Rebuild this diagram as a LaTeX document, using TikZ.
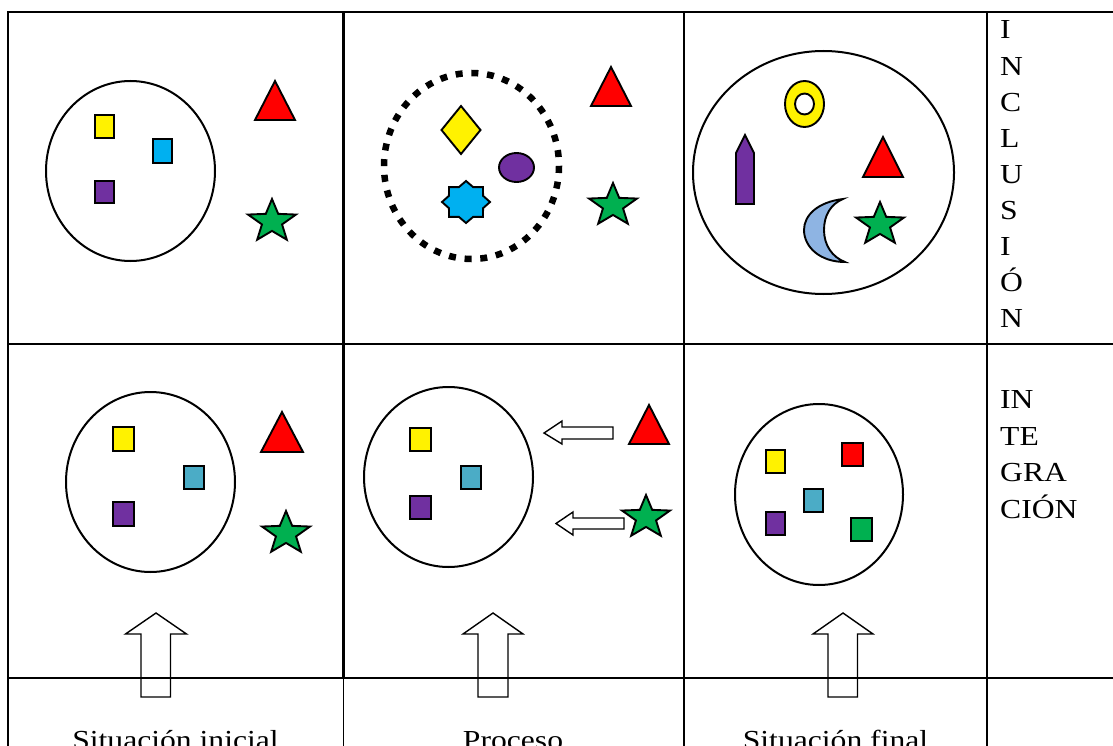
\documentclass[tikz,border=0pt]{standalone}
\usepackage{fontspec}
\setmainfont{Liberation Serif}
\newfontfamily\lblfont[FakeStretch=1.15]{Liberation Serif}
\definecolor{cyanb}{HTML}{00B0F0}
\definecolor{purp}{HTML}{7030A0}
\definecolor{grn}{HTML}{00B050}
\definecolor{tealb}{HTML}{4BACC6}
\definecolor{moonb}{HTML}{8EB4E3}
\newcommand\fivestar[4]{%
  \filldraw[shp, fill=grn, shift={(#1,#2)}, xscale=#4]
    (-90:#3) -- (-54:{0.42*#3}) -- (-18:#3) -- (18:{0.42*#3}) -- (54:#3) -- (90:{0.42*#3})
    -- (126:#3) -- (162:{0.42*#3}) -- (198:#3) -- (234:{0.42*#3}) -- cycle;}
\newcommand\sqbox[5]{\filldraw[shp, fill=#5] (#1,#2) rectangle (#3,#4);}
\newcommand\tri[4]{\filldraw[shp, fill=red] (#1,#2) -- (#4,#3) -- ({2*#1-#4},#3) -- cycle;}
\begin{document}
\begin{tikzpicture}[x=1pt,y=-1pt,
  gridline/.style={line width=2.3pt},
  thingrid/.style={line width=1.3pt},
  shp/.style={draw=black, line width=1.9pt, line join=miter},
  setline/.style={draw=black, line width=2pt},
  blockarrow/.style={draw=black, line width=1.4pt, line join=miter},
  lbl/.style={font=\lblfont\fontsize{27.5}{30}\selectfont, inner sep=0pt}]
\useasboundingbox (0,0) rectangle (1113,746);
\fill[white] (0,0) rectangle (1113,746);

% grid
\draw[gridline] (7,12) -- (1113,12);
\draw[gridline] (7,344) -- (1113,344);
\draw[gridline] (7,678) -- (1113,678);
\draw[gridline] (8,12) -- (8,678);
\draw[gridline] (343.5,12) -- (343.5,678);
\draw[gridline] (684,12) -- (684,678);
\draw[gridline] (987,12) -- (987,678);
\draw[thingrid] (8,678) -- (8,746);
\draw[thingrid] (343.5,678) -- (343.5,746);
\draw[thingrid] (684,678) -- (684,746);
\draw[thingrid] (987,678) -- (987,746);

% ---- top-left cell
\draw[setline] (130.5,171) ellipse [x radius=84.5, y radius=90];
\sqbox{95}{115}{114}{138}{yellow}
\sqbox{153}{139}{172}{163}{cyanb}
\sqbox{95}{181}{114}{203}{purp}
\tri{275}{81}{120}{295}
\fivestar{272}{221.5}{22.5}{1.12}

% ---- top-middle cell
\draw[line width=6.5pt, dash pattern=on 7pt off 8.75pt] (471.5,166) ellipse [x radius=87.5, y radius=93];
\filldraw[shp, fill=yellow] (461,106) -- (480.5,130) -- (461,154) -- (441.5,130) -- cycle;
\filldraw[shp, fill=purp] (516.5,167.5) ellipse [x radius=17.5, y radius=14.5];
\filldraw[shp, fill=cyanb, shift={(466,202)}, xscale=24, yscale=21]
  (-90:1) -- (-67.5:.77) -- (-45:1) -- (-22.5:.77) -- (0:1) -- (22.5:.77) -- (45:1) -- (67.5:.77)
  -- (90:1) -- (112.5:.77) -- (135:1) -- (157.5:.77) -- (180:1) -- (202.5:.77) -- (225:1) -- (247.5:.77) -- cycle;
\tri{611}{67}{106}{631}
\fivestar{613}{205.5}{22.5}{1.12}

% ---- top-right cell
\draw[setline] (823.5,172.5) ellipse [x radius=130.5, y radius=121.5];
\filldraw[shp, fill=yellow, even odd rule] (804.5,104) ellipse [x radius=19.5, y radius=23]
  (804.5,104) ellipse [x radius=9.5, y radius=10.5];
\filldraw[shp, fill=purp] (736,153) -- (745,135) -- (754,153) -- (754,204) -- (736,204) -- cycle;
\tri{883}{137}{177}{903}
\filldraw[shp, fill=moonb] (843,199) .. controls (818,202) and (804,215) .. (804,230)
  .. controls (804,247) and (820,262) .. (845,262)
  .. controls (832,257) and (824,245) .. (824,230)
  .. controls (824,215) and (831,204) .. (843,199) -- cycle;
\fivestar{880}{224.5}{22.5}{1.12}

% ---- middle-left cell
\draw[setline] (150.5,482) ellipse [x radius=84.5, y radius=90];
\sqbox{113}{427}{134}{451}{yellow}
\sqbox{184}{466}{204}{489}{tealb}
\sqbox{113}{502}{134}{526}{purp}
\tri{282}{412}{452}{303}
\fivestar{286}{533.5}{22.5}{1.12}

% ---- middle-middle cell
\draw[setline] (448.5,477) ellipse [x radius=84.5, y radius=90];
\sqbox{410}{428}{431}{451}{yellow}
\sqbox{461}{466}{481}{489}{tealb}
\sqbox{410}{496}{431}{519}{purp}
\tri{649}{405}{444}{669}
\fivestar{646}{517.5}{22.5}{1.12}
\draw[blockarrow] (544,433) -- (562,421) -- (562,427) -- (613,427) -- (613,439) -- (562,439) -- (562,444) -- cycle;
\draw[blockarrow] (556,523.5) -- (573,512) -- (573,518) -- (624,518) -- (624,529) -- (573,529) -- (573,535) -- cycle;

% ---- middle-right cell
\draw[setline] (819,494.5) ellipse [x radius=84, y radius=90.5];
\sqbox{766}{450}{785}{473}{yellow}
\sqbox{842}{443}{863}{466}{red}
\sqbox{804}{489}{823}{512}{tealb}
\sqbox{766}{512}{785}{535}{purp}
\sqbox{851}{518}{872}{541}{grn}

% ---- up arrows
\draw[blockarrow] (156,613) -- (186.5,634) -- (170.5,634) -- (170.5,697) -- (141,697) -- (141,634) -- (125.5,634) -- cycle;
\draw[blockarrow] (493,613) -- (523,634) -- (508,634) -- (508,697) -- (478,697) -- (478,634) -- (463,634) -- cycle;
\draw[blockarrow] (843,613) -- (873,634) -- (857.5,634) -- (857.5,697) -- (828,697) -- (828,634) -- (813,634) -- cycle;

% ---- texts
\foreach \l [count=\i from 0] in {I,N,C,L,U,S,I,Ó,N}
  \node[lbl, anchor=base west] (inc\i) at (1000,{39+36.1*\i}) {\l};
\foreach \l [count=\i from 0] in {IN,TE,GRA,CIÓN}
  \node[lbl, anchor=base west] (int\i) at (1000,{408.5+36.5*\i}) {\l};
\node[lbl, anchor=base] (sini) at (175.5,749) {Situación inicial};
\node[lbl, anchor=base] (proc) at (513,749) {Proceso};
\node[lbl, anchor=base] (sfin) at (835.5,749) {Situación final};
\end{tikzpicture}
\end{document}
